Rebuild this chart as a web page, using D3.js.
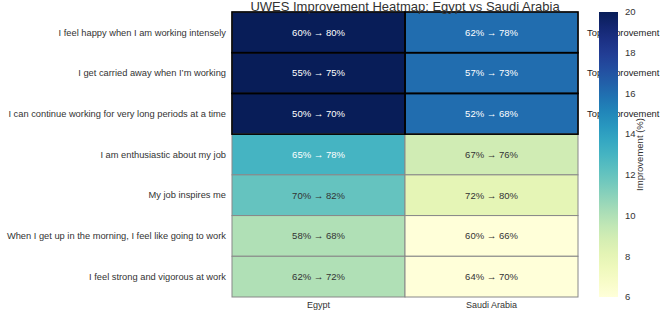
<!DOCTYPE html>
<html>
<head>
<meta charset="utf-8">
<script src="https://cdn.jsdelivr.net/npm/d3@7"></script>
<style>
  body { margin: 0; background: #fff; }
  svg { font-family: "Liberation Sans", Arial, sans-serif; }
</style>
</head>
<body>
<svg width="661" height="310"></svg>
<script>
const statements = [
    "I feel happy when I am working intensely",
    "I get carried away when I\u2019m working",
    "I can continue working for very long periods at a time",
    "I am enthusiastic about my job",
    "My job inspires me",
    "When I get up in the morning, I feel like going to work",
    "I feel strong and vigorous at work"
];
const countries = ["Egypt", "Saudi Arabia"];
const egyptBefore = [60, 55, 50, 65, 70, 58, 62];
const egyptAfter = [80, 75, 70, 78, 82, 68, 72];
const saudiBefore = [62, 57, 52, 67, 72, 60, 64];
const saudiAfter = [78, 73, 68, 76, 80, 66, 70];
const topRows = [0, 1, 2];
const colorTicks = [6, 8, 10, 12, 14, 16, 18, 20];

const cells = [];
statements.forEach((s, i) => {
    cells.push({ row: s, col: countries[0], i, before: egyptBefore[i], after: egyptAfter[i] });
    cells.push({ row: s, col: countries[1], i, before: saudiBefore[i], after: saudiAfter[i] });
});

const svg = d3.select("svg");
const area = { left: 232, right: 578, top: 12, bottom: 297 };

const scX = d3.scaleBand().domain(countries).range([area.left, area.right]);
const scY = d3.scaleBand().domain(statements).range([area.top, area.bottom]);
const color = d3.scaleSequential(d3.interpolateYlGnBu).domain([6, 20]);

// ячейки
svg.append("g").selectAll("rect")
    .data(cells)
    .enter()
    .append("rect")
    .attr("x", d => scX(d.col))
    .attr("y", d => scY(d.row))
    .attr("width", scX.bandwidth())
    .attr("height", scY.bandwidth())
    .style("fill", d => color(d.after - d.before))
    .style("stroke", "#888")
    .style("stroke-width", 1);

// выделение лучших строк
svg.append("g").selectAll("rect")
    .data(cells.filter(d => topRows.includes(d.i)))
    .enter()
    .append("rect")
    .attr("x", d => scX(d.col))
    .attr("y", d => scY(d.row))
    .attr("width", scX.bandwidth())
    .attr("height", scY.bandwidth())
    .style("fill", "none")
    .style("stroke", "#000")
    .style("stroke-width", 1.6);

svg.append("g").selectAll("text")
    .data(cells)
    .enter()
    .append("text")
    .attr("x", d => scX(d.col) + scX.bandwidth() / 2)
    .attr("y", d => scY(d.row) + scY.bandwidth() / 2)
    .attr("dy", "0.35em")
    .attr("text-anchor", "middle")
    .style("font-size", "9.5px")
    .style("fill", d => (d.after - d.before) > 12.5 ? "#fff" : "#333")
    .text(d => `${d.before}% \u2192 ${d.after}%`);

// подписи строк
svg.append("g").selectAll("text")
    .data(statements)
    .enter()
    .append("text")
    .attr("x", area.left - 6)
    .attr("y", d => scY(d) + scY.bandwidth() / 2)
    .attr("dy", "0.35em")
    .attr("text-anchor", "end")
    .style("font-size", "9.3px")
    .style("fill", "#333")
    .text(d => d);

svg.append("g").selectAll("text")
    .data(countries)
    .enter()
    .append("text")
    .attr("x", d => scX(d) + scX.bandwidth() / 2)
    .attr("y", area.bottom + 11)
    .attr("text-anchor", "middle")
    .style("font-size", "9px")
    .style("fill", "#333")
    .text(d => d);

// надписи Top Improvement
svg.append("g").selectAll("text")
    .data(topRows)
    .enter()
    .append("text")
    .attr("x", area.right + 9)
    .attr("y", d => scY(statements[d]) + scY.bandwidth() / 2)
    .attr("dy", "0.35em")
    .style("font-size", "9.4px")
    .style("fill", "#222")
    .text("Top Improvement");

svg.append("text")
    .attr("x", (area.left + area.right) / 2)
    .attr("y", 10.5)
    .attr("text-anchor", "middle")
    .style("font-size", "13px")
    .style("fill", "#333")
    .text("UWES Improvement Heatmap: Egypt vs Saudi Arabia");

// шкала цвета
const cb = { x: 599, w: 19 };
const scC = d3.scaleLinear().domain([6, 20]).range([area.bottom, area.top]);
const defs = svg.append("defs");
const grad = defs.append("linearGradient")
    .attr("id", "cbar")
    .attr("x1", 0).attr("y1", 1).attr("x2", 0).attr("y2", 0);
d3.range(0, 1.001, 0.05).forEach(t => {
    grad.append("stop")
        .attr("offset", t)
        .attr("stop-color", d3.interpolateYlGnBu(t));
});
svg.append("rect")
    .attr("x", cb.x)
    .attr("y", area.top)
    .attr("width", cb.w)
    .attr("height", area.bottom - area.top)
    .style("fill", "url(#cbar)");

svg.append("g").selectAll("text")
    .data(colorTicks)
    .enter()
    .append("text")
    .attr("x", cb.x + cb.w + 7)
    .attr("y", d => scC(d))
    .attr("dy", "0.35em")
    .style("font-size", "9.5px")
    .style("fill", "#333")
    .text(d => d);

svg.append("text")
    .attr("transform", `translate(643, ${(area.top + area.bottom) / 2}) rotate(-90)`)
    .attr("text-anchor", "middle")
    .style("font-size", "9.5px")
    .style("fill", "#333")
    .text("Improvement (%)");
</script>
</body>
</html>
